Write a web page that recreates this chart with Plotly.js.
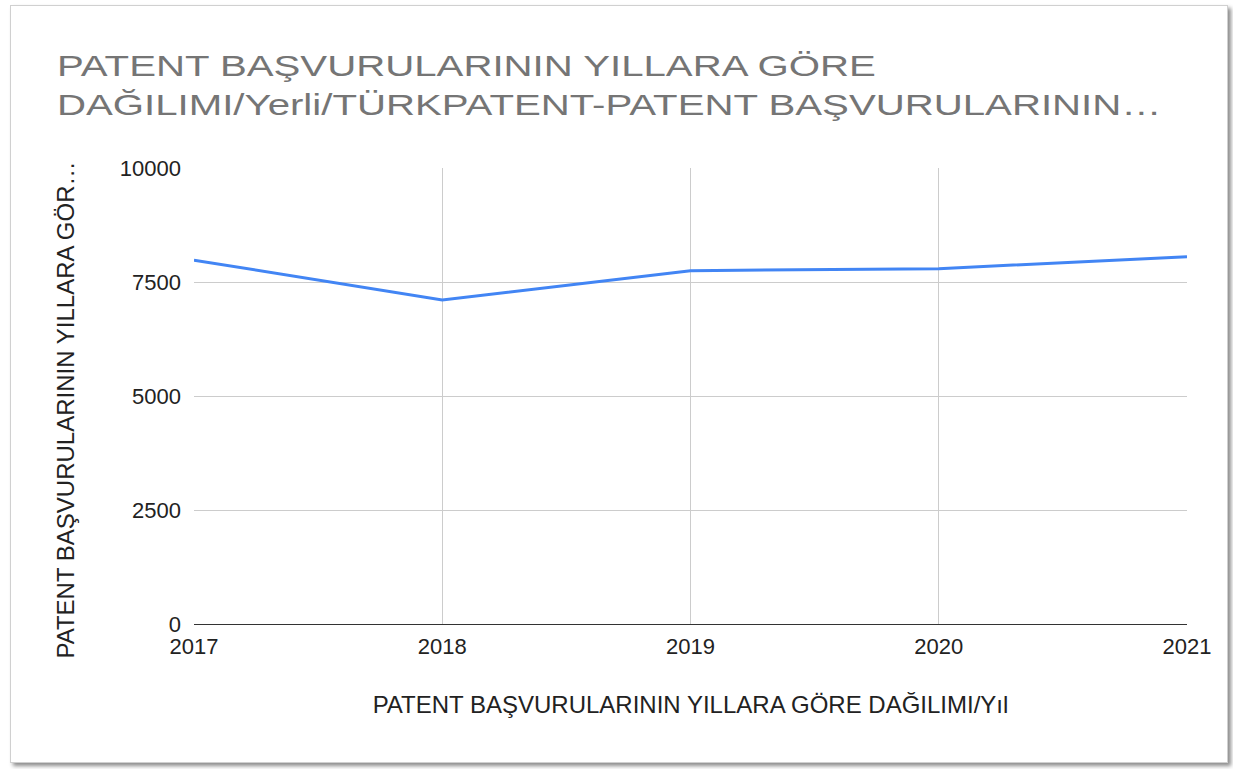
<!DOCTYPE html>
<html>
<head>
<meta charset="utf-8">
<script src="https://cdn.plot.ly/plotly-3.0.1.min.js"></script>
<style>
html,body{margin:0;padding:0;background:#fff;}
#frame{position:absolute;left:10px;top:5px;width:1216px;height:756px;border:1px solid #d0d0d0;box-shadow:3px 3px 4px rgba(0,0,0,0.45);background:#fff;}
#chart{position:absolute;left:0;top:0;width:1233px;height:769px;}
</style>
</head>
<body>
<div id="frame"></div>
<div id="chart"></div>
<script>
var years = [2017, 2018, 2019, 2020, 2021];
var applications = [7980, 7105, 7748, 7792, 8055];
var yTicks = [0, 2500, 5000, 7500, 10000];
var titleText = "PATENT BAŞVURULARININ YILLARA GÖRE<br>DAĞILIMI/Yerli/TÜRKPATENT-PATENT BAŞVURULARININ…";
var xTitle = "PATENT BAŞVURULARININ YILLARA GÖRE DAĞILIMI/Yıl";
var yTitle = "PATENT BAŞVURULARININ YILLARA GÖR…";

var trace = {
  x: years, y: applications, type: 'scatter', mode: 'lines',
  line: {color: '#4285F4', width: 3}, hoverinfo: 'skip'
};
var layout = {
  width: 1233, height: 769,
  paper_bgcolor: 'rgba(0,0,0,0)', plot_bgcolor: 'rgba(0,0,0,0)',
  margin: {l: 194, r: 46, t: 168, b: 145},
  showlegend: false,
  font: {family: 'Liberation Sans, Arial, sans-serif', color: '#222'},
  title: {text: titleText, x: 57/1233, xanchor: 'left', xref: 'container', y: 1 - 76/769, yanchor: 'top', yref: 'container',
          font: {size: 30, color: '#757575', family: 'Liberation Sans, Arial, sans-serif'}},
  xaxis: {
    range: [2017, 2021], tickvals: years, ticktext: years.map(String),
    showgrid: true, gridcolor: '#cccccc', gridwidth: 1,
    zeroline: false, showline: true, linecolor: '#333333', linewidth: 1,
    ticks: '', tickfont: {size: 22, color: '#222'}, ticklabelstandoff: 3,
    title: {text: xTitle, font: {size: 24, color: '#222'}, standoff: 37}
  },
  yaxis: {
    range: [0, 10000], tickvals: yTicks, ticktext: yTicks.map(String),
    showgrid: true, gridcolor: '#cccccc', gridwidth: 1,
    zeroline: false, showline: false,
    ticks: '', tickfont: {size: 22, color: '#222'}, ticklabelstandoff: 12,
    title: {text: yTitle, font: {size: 24, color: '#222'}, standoff: 38}
  }
};
Plotly.newPlot('chart', [trace], layout, {displayModeBar: false, staticPlot: true}).then(function (gd) {
  var t = gd.querySelector('.gtitle');
  if (t) {
    var x0 = parseFloat(t.getAttribute('x')) || 57;
    t.setAttribute('transform', 'translate(' + x0 + ',0) scale(1.34,1) translate(' + (-x0) + ',0)');
  }
  var yt = gd.querySelector('.ytitle');
  if (yt) {
    var prev = yt.getAttribute('transform') || '';
    yt.setAttribute('transform', 'translate(0,14) ' + prev);
  }
});
</script>
</body>
</html>
